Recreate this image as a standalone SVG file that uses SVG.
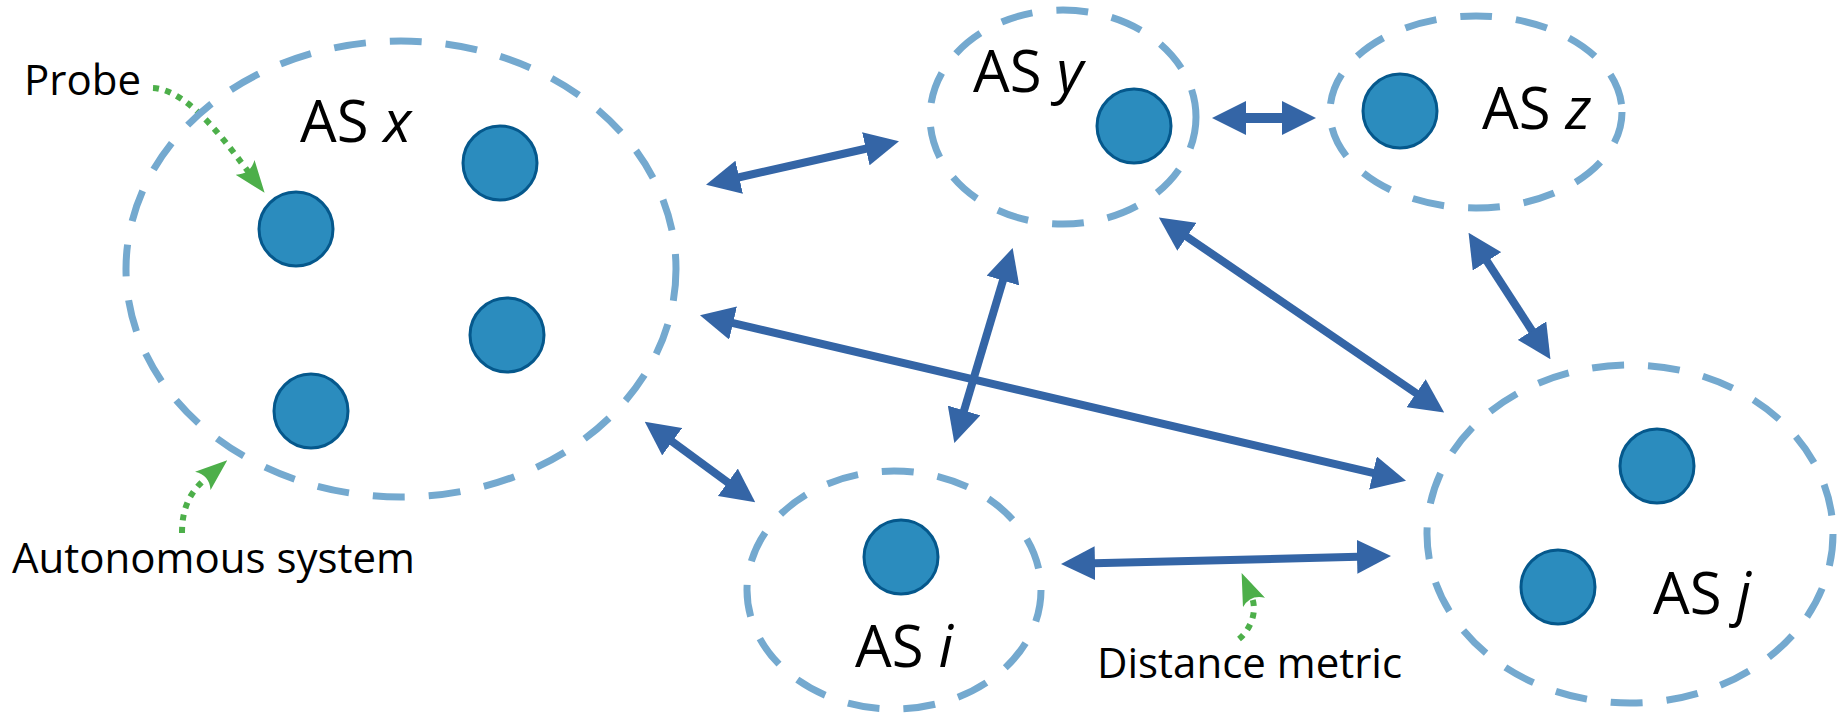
<svg xmlns="http://www.w3.org/2000/svg" width="1846" height="714" viewBox="0 0 1846 714">
  <style>
    .as { fill: none; stroke: #74a9cf; stroke-width: 7; stroke-dasharray: 32 24; }
    .host { fill: #2b8cbe; stroke: #05588c; stroke-width: 3; }
    .label { font-family: "Open Sans", "Liberation Sans", sans-serif; fill: #000; }
    .as-label { font-size: 58px; }
    .note { font-size: 42px; }
    .link { stroke: #3465a6; stroke-width: 8; fill: none; marker-start: url(#head); marker-end: url(#head); }
    .pointer { fill: none; stroke: #4daf4a; stroke-width: 6; stroke-dasharray: 6 6.5; marker-end: url(#ghead); }
  </style>
  <defs>
    <!-- double-headed link arrowhead, base sits on the line end -->
    <marker id="head" viewBox="0 0 34 34" markerWidth="34" markerHeight="34" refX="1" refY="17" orient="auto-start-reverse" markerUnits="userSpaceOnUse">
      <path d="M0,0 L34,17 L0,34 Z" fill="#3465a6"/>
    </marker>
    <!-- notched green pointer head -->
    <marker id="ghead" viewBox="0 0 32 24" markerWidth="32" markerHeight="24" refX="6" refY="12" orient="auto" markerUnits="userSpaceOnUse">
      <path d="M0,0 L32,12 L0,24 Q9,12 0,0 Z" fill="#4daf4a"/>
    </marker>
  </defs>

  <!-- annotation pointers -->
  <g id="annotations">
    <path class="pointer" d="M153,88 C190,90 230,148 248.7,172.2"/>
    <path class="pointer" d="M182,533 C182,505 192,490 207.4,477"/>
    <path class="pointer" d="M1239,639 C1250,630 1258,612 1251.7,597"/>
    <text class="label note" x="24" y="95">Probe</text>
    <text class="label note" x="12" y="573">Autonomous system</text>
    <text class="label note" x="1097" y="678">Distance metric</text>
  </g>

  <g id="as-x">
    <ellipse class="as" cx="401" cy="269" rx="275" ry="228"/>
    <circle class="host" cx="500" cy="163" r="37"/>
    <circle class="host" cx="296" cy="229" r="37"/>
    <circle class="host" cx="507" cy="335" r="37"/>
    <circle class="host" cx="311" cy="411" r="37"/>
    <text class="label as-label" x="300" y="142">AS <tspan font-style="italic">x</tspan></text>
  </g>

  <g id="as-y">
    <ellipse class="as" cx="1063" cy="117" rx="133" ry="107"/>
    <circle class="host" cx="1134" cy="126" r="37"/>
    <text class="label as-label" x="973" y="92">AS <tspan font-style="italic">y</tspan></text>
  </g>

  <g id="as-z">
    <ellipse class="as" cx="1476" cy="112" rx="146" ry="96"/>
    <circle class="host" cx="1400" cy="111" r="37"/>
    <text class="label as-label" x="1482" y="129">AS <tspan font-style="italic">z</tspan></text>
  </g>

  <g id="as-i">
    <ellipse class="as" cx="894" cy="590" rx="147" ry="119"/>
    <circle class="host" cx="901" cy="557" r="37"/>
    <text class="label as-label" x="855" y="667">AS <tspan font-style="italic">i</tspan></text>
  </g>

  <g id="as-j">
    <ellipse class="as" cx="1630" cy="534" rx="203" ry="169"/>
    <circle class="host" cx="1657" cy="466" r="37"/>
    <circle class="host" cx="1558" cy="587" r="37"/>
    <text class="label as-label" x="1653" y="614">AS <tspan font-style="italic">j</tspan></text>
  </g>

  <!-- inter-AS links -->
  <g id="connectors">
    <line class="link" x1="738.2" y1="177.5" x2="866.8" y2="148.5"/>
    <line class="link" x1="1245" y1="118" x2="1283" y2="118" style="stroke-width:10"/>
    <line class="link" x1="732.1" y1="322.8" x2="1373.9" y2="473.2"/>
    <line class="link" x1="1003.2" y1="279.6" x2="963.8" y2="411.4"/>
    <line class="link" x1="1186.1" y1="236.2" x2="1416.9" y2="393.8"/>
    <line class="link" x1="1486.5" y1="260.5" x2="1532.5" y2="331.5"/>
    <line class="link" x1="671.4" y1="441.1" x2="728.6" y2="482.9"/>
    <line class="link" x1="1094" y1="563.2" x2="1358" y2="556.8"/>
  </g>
</svg>
